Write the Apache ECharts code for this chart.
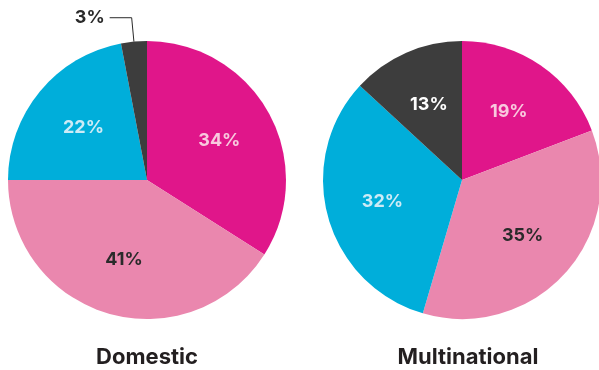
<!DOCTYPE html>
<html>
<head>
<meta charset="utf-8">
<script src="https://cdn.jsdelivr.net/npm/echarts@6/dist/echarts.min.js"></script>
<style>
html,body{margin:0;padding:0;background:#fff;}
#c{width:599px;height:370px;}
</style>
</head>
<body>
<div id="c"></div>
<script>
const categories = ['Magenta', 'Pink', 'Cyan', 'Dark'];
const domesticValues = [34, 41, 22, 3];
const multinationalValues = [19, 35, 32, 13];
const chartTitles = ['Domestic', 'Multinational'];

const sliceColors = ['#E0168A', '#EA87AE', '#00AEDA', '#3D3D3D'];
const labelColors = ['#F8C9DE', '#2A2A2A', '#CDEBF6', '#FFFFFF'];
const FONT = 'Inter, "Open Sans", sans-serif';

const centers = [[147, 180], [462, 180]];
const R = 139;

function pieSeries(values, center) {
  return {
    type: 'pie',
    center: center,
    radius: [0, R],
    startAngle: 90,
    clockwise: true,
    silent: true,
    animation: false,
    label: { show: false },
    labelLine: { show: false },
    data: values.map((v, i) => ({ name: categories[i], value: v, itemStyle: { color: sliceColors[i] } }))
  };
}

function labelSeries(values, center) {
  return {
    type: 'pie',
    center: center,
    radius: [20, R],
    startAngle: 90,
    clockwise: true,
    silent: true,
    animation: false,
    avoidLabelOverlap: false,
    minShowLabelAngle: 0,
    itemStyle: { color: 'rgba(0,0,0,0)' },
    data: values.map((v, i) => {
      const small = v < 5;
      return {
        name: categories[i],
        value: v,
        label: small ? {
          show: true, position: 'outside', formatter: '{c}%',
          color: '#2A2A2A', fontFamily: FONT, fontWeight: 'bold', fontSize: 18
        } : {
          show: true, position: 'inside', formatter: '{c}%',
          color: labelColors[i], fontFamily: FONT, fontWeight: 'bold', fontSize: 18
        },
        labelLine: small ? { show: true, length: 24, length2: 22, lineStyle: { color: '#2A2A2A', width: 1 } } : { show: false }
      };
    })
  };
}

const chart = echarts.init(document.getElementById('c'), null, { renderer: 'canvas' });
chart.setOption({
  backgroundColor: '#ffffff',
  animation: false,
  series: [
    pieSeries(domesticValues, centers[0]),
    pieSeries(multinationalValues, centers[1]),
    labelSeries(domesticValues, centers[0]),
    labelSeries(multinationalValues, centers[1])
  ],
  graphic: chartTitles.map((t, i) => ({
    type: 'text',
    x: [147, 468][i],
    y: 357,
    style: {
      text: t,
      fill: '#231F20',
      font: 'bold 22px ' + FONT,
      textAlign: 'center',
      textVerticalAlign: 'middle'
    }
  }))
});
</script>
</body>
</html>
